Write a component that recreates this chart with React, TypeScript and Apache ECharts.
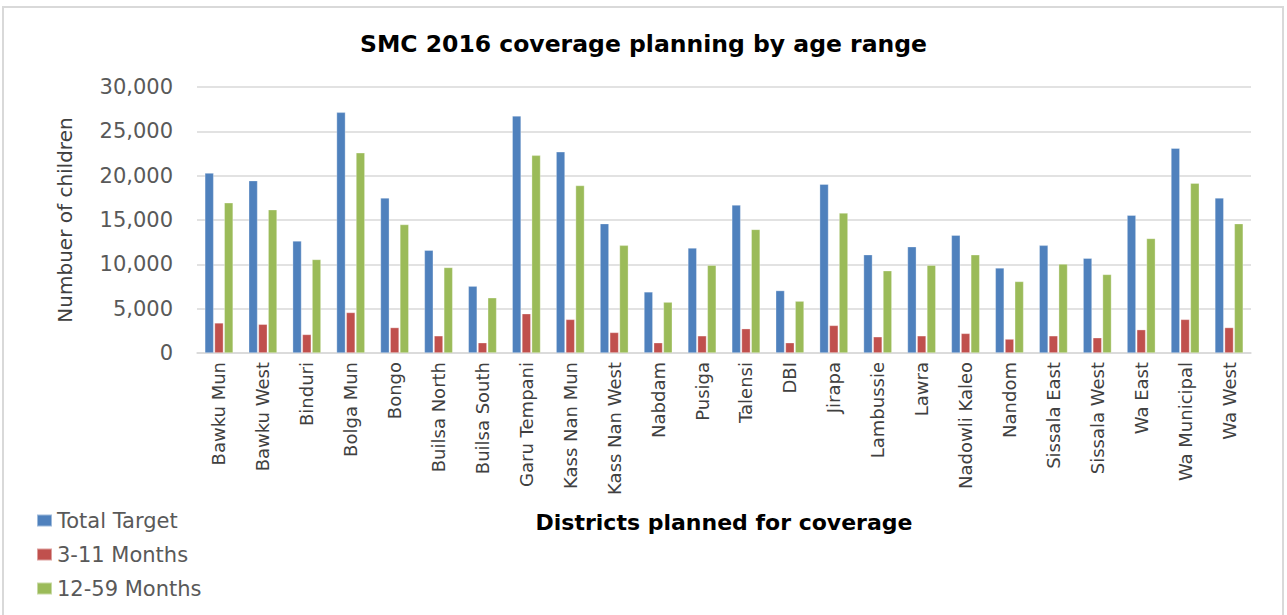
import React, { useEffect, useRef } from "react";
import * as echarts from "echarts";

const districts = [
  "Bawku Mun", "Bawku West", "Binduri", "Bolga Mun", "Bongo", "Builsa North",
  "Builsa South", "Garu Tempani", "Kass Nan Mun", "Kass Nan West", "Nabdam", "Pusiga",
  "Talensi", "DBI", "Jirapa", "Lambussie", "Lawra", "Nadowli Kaleo",
  "Nandom", "Sissala East", "Sissala West", "Wa East", "Wa Municipal", "Wa West",
];
const totalTarget = [
  20300, 19450, 12650, 27150, 17500, 11600,
  7550, 26750, 22700, 14600, 6900, 11850,
  16700, 7050, 19050, 11100, 12000, 13300,
  9600, 12150, 10700, 15550, 23100, 17500,
];
const months3to11 = [
  3400, 3250, 2100, 4580, 2880, 1950,
  1170, 4440, 3800, 2330, 1170, 1950,
  2750, 1170, 3120, 1840, 1950, 2220,
  1580, 1950, 1730, 2640, 3800, 2880,
];
const months12to59 = [
  16950, 16170, 10560, 22590, 14500, 9660,
  6240, 22300, 18900, 12150, 5750, 9920,
  13950, 5860, 15800, 9290, 9920, 11090,
  8080, 10040, 8870, 12930, 19170, 14600,
];
const yTicks = { min: 0, max: 30000, interval: 5000 };

const FONT = "DejaVu Sans";

export default function App() {
  const ref = useRef<HTMLDivElement>(null);
  useEffect(() => {
    document.body.style.margin = "0";
    const chart = echarts.init(ref.current!, null, { renderer: "svg" });
    const barStyle = (color: string) => ({
      color,
      borderColor: "rgba(255,255,255,0.45)",
      borderWidth: 0.7,
    });
    chart.setOption({
      animation: false,
      backgroundColor: "#ffffff",
      textStyle: { fontFamily: FONT },
      title: {
        text: "SMC 2016 coverage planning by age range",
        left: "center",
        top: 27,
        textStyle: { fontFamily: FONT, fontSize: 23.5, fontWeight: "bold", color: "#000000" },
      },
      graphic: [
        {
          type: "rect",
          shape: { x: 3, y: 7, width: 1280, height: 620 },
          style: { fill: "none", stroke: "#D9D9D9", lineWidth: 2 },
          silent: true,
        },
      ],
      legend: {
        orient: "vertical",
        left: 31,
        top: 505,
        itemWidth: 15,
        itemHeight: 12,
        itemGap: 13,
        icon: "rect",
        textStyle: { fontFamily: FONT, fontSize: 21, color: "#595959" },
        data: ["Total Target", "3-11 Months", "12-59 Months"],
      },
      grid: { left: 197, right: 36, top: 87, bottom: 262 },
      xAxis: {
        type: "category",
        data: districts,
        name: "Districts planned for coverage",
        nameLocation: "middle",
        nameGap: 158,
        nameTextStyle: { fontFamily: FONT, fontSize: 22, fontWeight: "bold", color: "#000000" },
        axisTick: { show: false },
        axisLine: { lineStyle: { color: "#D9D9D9", width: 1.5 } },
        axisLabel: {
          rotate: 90,
          interval: 0,
          margin: 9,
          fontFamily: FONT,
          fontSize: 18,
          color: "#404040",
        },
      },
      yAxis: {
        type: "value",
        min: yTicks.min,
        max: yTicks.max,
        interval: yTicks.interval,
        name: "Numbuer of children",
        nameLocation: "middle",
        nameGap: 122,
        nameTextStyle: { fontFamily: FONT, fontSize: 20, color: "#404040" },
        axisLine: { show: false },
        axisTick: { show: false },
        splitLine: { lineStyle: { color: "#D9D9D9", width: 1.5 } },
        axisLabel: {
          margin: 24,
          fontFamily: FONT,
          fontSize: 21,
          color: "#595959",
          formatter: (v: number) => v.toLocaleString("en-US"),
        },
      },
      series: [
        { name: "Total Target", type: "bar", data: totalTarget, barWidth: 9, barGap: "8%", itemStyle: barStyle("#4F81BD") },
        { name: "3-11 Months", type: "bar", data: months3to11, barWidth: 9, barGap: "8%", itemStyle: barStyle("#C0504D") },
        { name: "12-59 Months", type: "bar", data: months12to59, barWidth: 9, barGap: "8%", itemStyle: barStyle("#9BBB59") },
      ],
    });
    return () => chart.dispose();
  }, []);
  return (
    <div
      ref={ref}
      style={{ position: "absolute", left: 0, top: 0, width: 1287, height: 615 }}
    />
  );
}
